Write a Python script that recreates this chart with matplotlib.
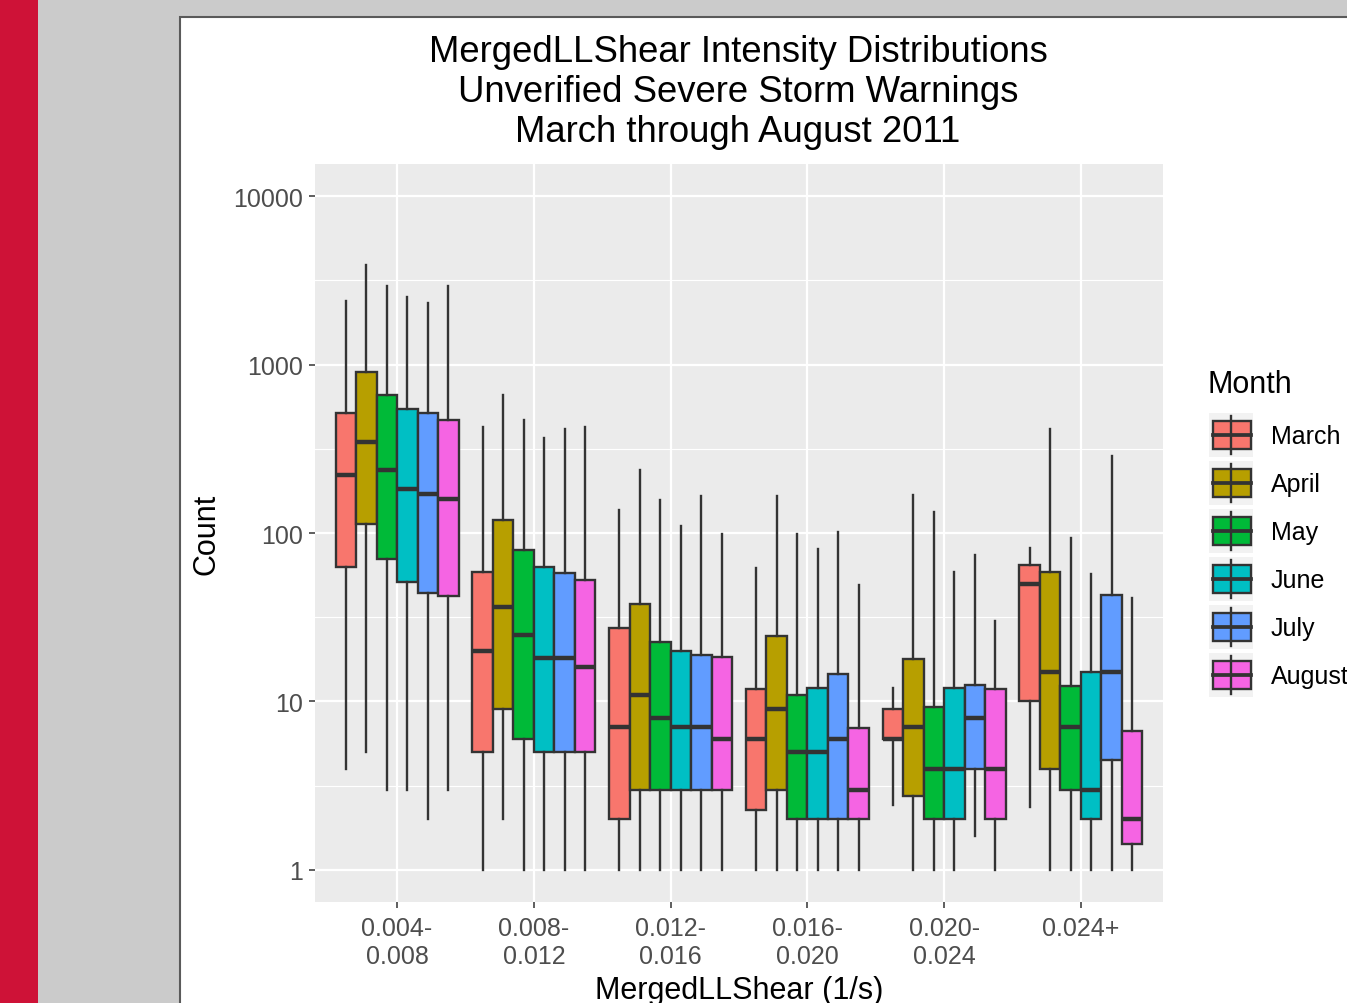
import matplotlib
matplotlib.use('Agg')
import matplotlib.pyplot as plt
from matplotlib.patches import Rectangle
from matplotlib.ticker import FixedLocator, NullFormatter

plt.rcParams['font.family'] = ['Liberation Sans', 'DejaVu Sans']

# shear bins (x categories) and months (fill groups)
bins = ['0.004-\n0.008', '0.008-\n0.012', '0.012-\n0.016',
        '0.016-\n0.020', '0.020-\n0.024', '0.024+']
months = ['March', 'April', 'May', 'June', 'July', 'August']
colors = ['#F8766D', '#B79F00', '#00BA38', '#00BFC4', '#619CFF', '#F564E3']

# box statistics, one row per bin, one value per month
whisker_high = [
    [2380, 3920, 2940, 2500, 2310, 2940],
    [423, 658, 466, 367, 416, 423],
    [136, 237, 156, 110, 166, 98],
    [62, 166, 99, 80, 101, 49],
    [12.0, 169, 134, 59, 74, 30],
    [82, 414, 93, 57, 287, 41],
]
q3 = [
    [515, 898, 658, 542, 513, 466],
    [59, 119, 79, 63, 58, 52.5],
    [27.3, 37.9, 22.6, 19.9, 18.8, 18.3],
    [11.8, 24.6, 10.9, 12.0, 14.5, 7.0],
    [9.0, 17.9, 9.3, 12.0, 12.5, 11.8],
    [65, 59, 12.4, 14.9, 42.9, 6.7],
]
median = [
    [220, 347, 237, 183, 171, 160],
    [20, 36.5, 24.9, 18, 18, 16],
    [7.1, 11, 8, 7.1, 7.1, 6],
    [6, 9, 5, 5, 6, 3],
    [6, 7.1, 4, 4, 8, 4],
    [49.6, 15, 7.1, 3, 15, 2],
]
q1 = [
    [63, 113, 70, 51, 44, 42],
    [5, 9, 6, 5, 5, 5],
    [2, 3, 3, 3, 3, 3],
    [2.26, 3, 2, 2, 2, 2],
    [6, 2.75, 2, 2, 4, 2],
    [10, 4, 3, 2, 4.5, 1.42],
]
whisker_low = [
    [4, 5, 3, 3, 2, 3],
    [1, 2, 1, 1, 1, 1],
    [1, 1, 1, 1, 1, 1],
    [1, 1, 1, 1, 1, 1],
    [2.44, 1, 1, 1, 1.6, 1],
    [2.37, 1, 1, 1, 1, 1],
]

W, H = 1347, 1004
fig = plt.figure(figsize=(W / 100, H / 100), dpi=100)
fig.patch.set_facecolor('#CBCBCB')
fig.patches.append(Rectangle((0, 0), 38 / W, 1, transform=fig.transFigure,
                             facecolor='#CE1237', edgecolor='none', zorder=-2))
fig.patches.append(Rectangle((180 / W, -0.1), 1, 1.1 - 18 / H,
                             transform=fig.transFigure, facecolor='white',
                             edgecolor='#5A5A5A', linewidth=1.5, zorder=-2))

ax = fig.add_axes([315 / W, 1 - 903 / H, 848 / W, 738 / H])
ax.set_facecolor('#EBEBEB')
for s in ax.spines.values():
  s.set_visible(False)
ax.set_yscale('log')
ax.set_ylim(10 ** -0.19, 10 ** 4.19)
ax.set_xlim(0.4, 6.6)

dodge = 0.9 / len(months)
for i in range(len(bins)):
  for j, month in enumerate(months):
    stats = [dict(med=median[i][j], q1=q1[i][j], q3=q3[i][j],
                  whislo=whisker_low[i][j], whishi=whisker_high[i][j],
                  fliers=[])]
    pos = i + 1 + (j - (len(months) - 1) / 2) * dodge
    ax.bxp(stats, positions=[pos], widths=dodge, patch_artist=True,
           showfliers=False, showcaps=False, manage_ticks=False,
           boxprops=dict(facecolor=colors[j], edgecolor='#333333',
                         linewidth=1.7),
           whiskerprops=dict(color='#333333', linewidth=1.7),
           medianprops=dict(color='#333333', linewidth=3.2,
                            solid_capstyle='butt'),
           zorder=3)

ax.set_xticks(range(1, len(bins) + 1))
ax.set_xticklabels(bins)
ax.set_yticks([1, 10, 100, 1000, 10000])
ax.set_yticklabels(['1', '10', '100', '1000', '10000'])
ax.yaxis.set_minor_locator(FixedLocator([10 ** (k + 0.5) for k in range(-1, 5)]))
ax.yaxis.set_minor_formatter(NullFormatter())
ax.tick_params(which='major', length=4.4, width=1.1, color='#333333',
               labelsize=18, labelcolor='#4D4D4D')
ax.tick_params(axis='y', pad=4.5)
ax.tick_params(axis='x', pad=6)
ax.tick_params(which='minor', length=0)
ax.grid(which='major', color='white', linewidth=1.6, zorder=0)
ax.grid(which='minor', axis='y', color='white', linewidth=0.8, zorder=0)
ax.set_axisbelow(True)
for lab in ax.get_xticklabels():
  lab.set_linespacing(1.2)

ax.set_xlabel('MergedLLShear (1/s)', fontsize=22, labelpad=5)
ax.set_ylabel('Count', fontsize=22, labelpad=8)

title_lines = ['MergedLLShear Intensity Distributions',
               'Unverified Severe Storm Warnings',
               'March through August 2011']
for k, line in enumerate(title_lines):
  fig.text(738 / W, 1 - (62 + 40 * k) / H, line, ha='center',
           va='baseline', fontsize=26.3)

# legend drawn by hand, in pixel coordinates
lax = fig.add_axes([0, 0, 1, 1], facecolor='none')
lax.set_xlim(0, W)
lax.set_ylim(H, 0)
lax.axis('off')
lax.text(1208, 385, 'Month', fontsize=22, va='center', ha='left')
for j, month in enumerate(months):
  cy = 436 + 48 * j
  lax.add_patch(Rectangle((1209, cy - 22), 44, 44, facecolor='#F2F2F2',
                          edgecolor='none'))
  lax.plot([1231, 1231], [cy - 19, cy + 19], color='#333333', lw=1.7)
  lax.add_patch(Rectangle((1213, cy - 14), 38, 28, facecolor=colors[j],
                          edgecolor='#333333', lw=1.7))
  lax.plot([1213, 1251], [cy, cy], color='#333333', lw=2.7)
  lax.text(1271, cy + 1, month, fontsize=18, va='center', ha='left')

fig.savefig('out.png', dpi=100, facecolor=fig.get_facecolor())
